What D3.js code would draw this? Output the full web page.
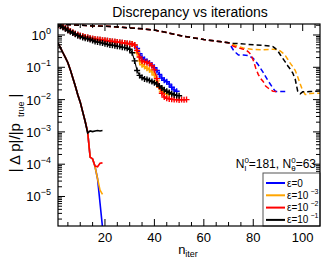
<!DOCTYPE html>
<html><head><meta charset="utf-8">
<script src="https://cdn.jsdelivr.net/npm/d3@7"></script>
<style>
body{margin:0;background:#fff}
svg{display:block}
text{font-family:"Liberation Sans",Arial,Helvetica,sans-serif;fill:#000}
</style>
</head><body>
<svg id="chart" width="332" height="265"></svg>
<script>
// ---------------- data ----------------
const seriesNames = ["blue", "orange", "red", "black"];
const seriesColors = ["#0000ff", "#ffa500", "#ff0000", "#000000"];
const legendLabels = [["ε=0", null], ["ε=10", "−3"], ["ε=10", "−2"], ["ε=10", "−1"]];

const xTicksMajor = [20, 40, 60, 80, 100];
const yTickExps = [0, -1, -2, -3, -4, -5];

// fast-converging solid lines (no markers)
const steepIter = [1,2,3,4,5,6,7,8,9,10,11,12,13,14,15,16,17,18,19];
const steepBlue   = [0.562,0.398,0.282,0.200,0.138,0.0832,0.0468,0.0263,0.0141,0.00832,0.00417,0.00209,0.00100,1.66e-4,1.45e-4,8.3e-5,3.55e-5,6.3e-6,1.12e-6];
const steepOrange = [0.562,0.398,0.282,0.200,0.138,0.0832,0.0468,0.0263,0.0141,0.00832,0.00417,0.00209,0.00100,1.66e-4,1.45e-4,8.3e-5,3.55e-5,1.58e-5,1.17e-5];
const steepRed    = [0.562,0.398,0.282,0.200,0.138,0.0832,0.0468,0.0263,0.0141,0.00832,0.00417,0.00209,0.00100,1.66e-4,1.45e-4,8.7e-5,8.3e-5,1.07e-4,1.10e-4];
const steepBlack  = [0.562,0.398,0.282,0.200,0.138,0.0832,0.0468,0.0263,0.0141,0.00832,0.00417,0.00209,0.00092,0.00107,0.00102,0.00107,0.00110,0.00107,0.00110];

// medium-converging lines with "+" markers (one per iteration, starting at 1)
const crossEarly  = [2.04,1.91,1.78,1.62,1.45,1.32,1.20,1.10,1.02,0.955,0.912,0.871,0.832,0.794,0.759,0.741,0.724,0.708,0.692,0.676,0.661,0.646,0.631,0.617,0.603,0.589,0.575,0.562,0.550,0.537,0.525,0.490];
const crossBlueTail   = [0.380,0.263,0.200,0.174,0.151,0.135,0.117,0.0977,0.0794,0.0603,0.0468,0.0398,0.0355,0.0302,0.0240,0.0200,0.0182];
const crossOrangeTail = [0.282,0.158,0.120,0.105,0.0933,0.0832,0.0724,0.0575,0.0380,0.0240,0.0178,0.0158,0.0148,0.0145];
const crossRedTail    = [0.331,0.209,0.158,0.148,0.141,0.132,0.112,0.0832,0.0447,0.0251,0.0158,0.0120,0.0110,0.0105,0.0102,0.0100,0.0100,0.0098,0.0100,0.0099,0.0100];
const crossBlack = [2.00,1.86,1.70,1.55,1.38,1.26,1.15,1.05,0.955,0.891,0.832,0.794,0.759,0.724,0.676,0.631,0.603,0.589,0.562,0.537,0.513,0.490,0.479,0.468,0.447,0.437,0.417,0.407,0.389,0.363,0.282,0.158,0.0794,0.0562,0.0479,0.0437,0.0417,0.0389,0.0363,0.0331,0.0302,0.0263,0.0229,0.0200,0.0182,0.0166,0.0151,0.0141,0.0135,0.0132];

// slow-converging dashed lines
const dashEarlyIter = [1,5,10,15,20,25,30,35,40,44,48,52,56,60,65,70];
const dashEarly     = [2.14,2.11,2.00,1.91,1.86,1.78,1.66,1.55,1.43,1.23,1.05,0.912,0.813,0.724,0.646,0.575];
const dashBlueIter   = [71,72,73,74,76,78,80,82,84,86,88,89,91,93];
const dashBlue       = [0.447,0.339,0.282,0.240,0.240,0.229,0.191,0.120,0.0692,0.0380,0.0224,0.0178,0.0178,0.0178];
const dashOrangeIter = [72,74,76,78,80,84,88,90,91,92,93,94,95,96,97,98,99,100,101,102,103,107];
const dashOrange     = [0.501,0.437,0.398,0.372,0.355,0.347,0.363,0.355,0.316,0.275,0.229,0.174,0.132,0.105,0.0794,0.0501,0.0302,0.0191,0.0145,0.0145,0.0155,0.0158];
const dashRedIter    = [71,72,74,76,77,78,79,80,81,82,83,84,85,86,87,88,90];
const dashRed        = [0.501,0.447,0.398,0.363,0.347,0.302,0.251,0.166,0.0955,0.0603,0.0447,0.0363,0.0263,0.0229,0.0200,0.0182,0.0178];
const dashBlackIter  = [72,75,78,81,84,87,88,89,90,91,92,93,94,95,96,97,98,99,100,103,107];
const dashBlack      = [0.550,0.537,0.513,0.490,0.479,0.457,0.437,0.380,0.316,0.240,0.186,0.145,0.110,0.0871,0.0661,0.0417,0.0178,0.0151,0.0174,0.0178,0.0186];

// ---------------- build series ----------------
const zip = (xs, ys) => xs.map((x, i) => ({n: x, v: ys[i]}));
const seq = ys => ys.map((v, i) => ({n: i + 1, v}));

const steep = [steepBlue, steepOrange, steepRed, steepBlack].map(s => zip(steepIter, s));
const cross = [crossEarly.concat(crossBlueTail), crossEarly.concat(crossOrangeTail), crossEarly.concat(crossRedTail), crossBlack].map(seq);
const early = zip(dashEarlyIter, dashEarly);
const dashed = [[dashBlueIter, dashBlue], [dashOrangeIter, dashOrange], [dashRedIter, dashRed], [dashBlackIter, dashBlack]]
  .map(([it, v]) => early.concat(zip(it, v)));

// ---------------- layout ----------------
const L = 58, R = 320, T = 24, B = 226;
const svg = d3.select("#chart");
const x = d3.scaleLinear().domain([1, 107]).range([L, R]);
const y = d3.scaleLog().domain([1.22e-6, 2.19]).range([B, T]);

svg.append("defs").append("clipPath").attr("id", "clip")
  .append("rect").attr("x", L).attr("y", T).attr("width", R - L).attr("height", B - T);

const plot = svg.append("g").attr("clip-path", "url(#clip)");
const line = d3.line().x(d => x(d.n)).y(d => y(d.v));

dashed.forEach((s, i) => {
  plot.append("path").attr("d", line(s)).attr("fill", "none")
    .attr("stroke", seriesColors[i]).attr("stroke-width", 1.5).attr("stroke-dasharray", "5,3");
});
cross.forEach((s, i) => {
  plot.append("path").attr("d", line(s)).attr("fill", "none")
    .attr("stroke", seriesColors[i]).attr("stroke-width", 1.1);
  plot.append("g").selectAll("path").data(s).join("path")
    .attr("d", "M-3,0H3M0,-3V3")
    .attr("transform", d => `translate(${x(d.n)},${y(d.v)})`)
    .attr("stroke", seriesColors[i]).attr("stroke-width", 1.4).attr("fill", "none");
});
steep.forEach((s, i) => {
  plot.append("path").attr("d", line(s)).attr("fill", "none")
    .attr("stroke", seriesColors[i]).attr("stroke-width", 1.6);
});

// ---------------- axes & frame ----------------
const axes = svg.append("g").attr("stroke", "#000").attr("stroke-width", 1);
const xMinor = d3.range(5, 107, 5);
xMinor.forEach(v => {
  const len = xTicksMajor.includes(v) ? 7 : 4;
  axes.append("line").attr("x1", x(v)).attr("x2", x(v)).attr("y1", B).attr("y2", B - len);
  axes.append("line").attr("x1", x(v)).attr("x2", x(v)).attr("y1", T).attr("y2", T + len);
});
const yMinor = [];
for (let e = -6; e <= 0; e++) for (let k = 2; k <= 9; k++) {
  const v = k * Math.pow(10, e);
  if (v > y.domain()[0] && v < y.domain()[1]) yMinor.push(v);
}
yMinor.forEach(v => {
  axes.append("line").attr("x1", L).attr("x2", L + 4).attr("y1", y(v)).attr("y2", y(v));
  axes.append("line").attr("x1", R).attr("x2", R - 4).attr("y1", y(v)).attr("y2", y(v));
});
yTickExps.forEach(e => {
  const v = Math.pow(10, e);
  axes.append("line").attr("x1", L).attr("x2", L + 7).attr("y1", y(v)).attr("y2", y(v));
  axes.append("line").attr("x1", R).attr("x2", R - 7).attr("y1", y(v)).attr("y2", y(v));
});

// tick labels
xTicksMajor.forEach(v => {
  svg.append("text").attr("x", x(v)).attr("y", B + 16).attr("text-anchor", "middle")
    .attr("font-size", 13).text(v);
});
yTickExps.forEach(e => {
  const t = svg.append("text").attr("x", 51).attr("y", y(Math.pow(10, e)) + 5)
    .attr("text-anchor", "end").attr("font-size", 13);
  t.append("tspan").text("10");
  t.append("tspan").attr("dy", -6).attr("font-size", 9).text(e === 0 ? "0" : "−" + (-e));
});

// title
svg.append("text").attr("x", 190).attr("y", 17).attr("text-anchor", "middle")
  .attr("font-size", 14).text("Discrepancy vs iterations");

// x label
const xl = svg.append("text").attr("x", 188).attr("y", 254).attr("text-anchor", "middle").attr("font-size", 13);
xl.append("tspan").text("n");
xl.append("tspan").attr("dy", 3).attr("font-size", 9).text("iter");

// y label
const yl = svg.append("text").attr("transform", "translate(20,133) rotate(-90)")
  .attr("text-anchor", "middle").attr("font-size", 15);
yl.append("tspan").text("| Δ p|/|p");
yl.append("tspan").attr("dx", 6).attr("dy", 4).attr("font-size", 9).text("true");
yl.append("tspan").attr("dx", 4).attr("dy", -4).text("|");

// annotation
const an = svg.append("text").attr("x", 316).attr("y", 168).attr("text-anchor", "end").attr("font-size", 12);
an.append("tspan").text("N");
an.append("tspan").attr("dy", -5).attr("font-size", 8).text("0");
an.append("tspan").attr("dx", -4.4).attr("dy", 8).attr("font-size", 8).text("l");
an.append("tspan").attr("dx", 2.5).attr("dy", -3).text("=181, N");
an.append("tspan").attr("dy", -5).attr("font-size", 8).text("0");
an.append("tspan").attr("dx", -4.4).attr("dy", 8).attr("font-size", 8).text("θ");
an.append("tspan").attr("dy", -3).text("=63");

// legend
const lg = svg.append("g");
lg.append("rect").attr("x", 263).attr("y", 173).attr("width", R - 263).attr("height", B - 173)
  .attr("fill", "#fff").attr("stroke", "#555").attr("stroke-width", 1);
legendLabels.forEach((lab, i) => {
  const yy = 183 + i * 12.3;
  lg.append("line").attr("x1", 266).attr("x2", 285).attr("y1", yy).attr("y2", yy)
    .attr("stroke", seriesColors[i]).attr("stroke-width", 2);
  const t = lg.append("text").attr("x", 287).attr("y", yy + 3.5).attr("font-size", 10);
  t.append("tspan").text(lab[0]);
  if (lab[1]) t.append("tspan").attr("dx", 2).attr("dy", -5).attr("font-size", 7).text(lab[1]);
});
svg.append("rect").attr("x", L).attr("y", T).attr("width", R - L).attr("height", B - T)
  .attr("fill", "none").attr("stroke", "#000").attr("stroke-width", 1.2);
</script>
</body></html>
